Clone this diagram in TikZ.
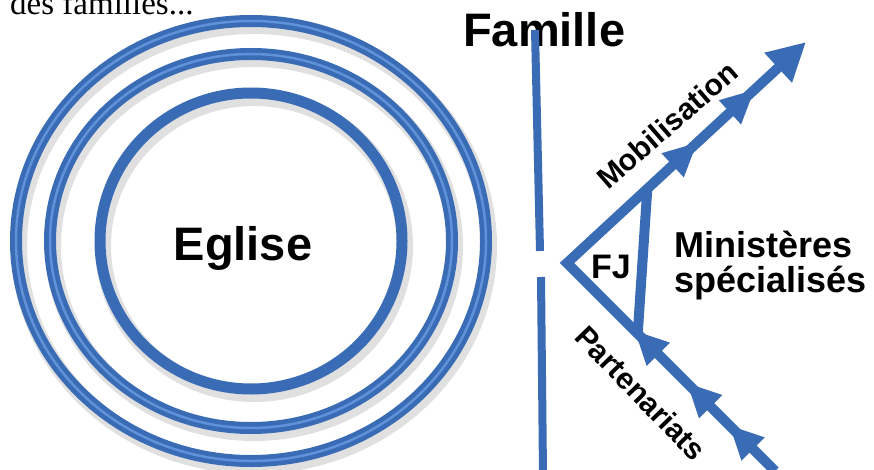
\documentclass[tikz,border=0pt]{standalone}
\usepackage{fontspec}
\setmainfont{Liberation Sans}
\newfontfamily\topserif{Liberation Serif}
\usetikzlibrary{arrows.meta,decorations.markings,calc}
\definecolor{ringblue}{RGB}{58,108,182}
\definecolor{ringlight}{RGB}{96,146,218}
\newcommand\headtri{\fill[ringblue] (0pt,0pt) -- (-33pt,16.5pt) -- (-33pt,-16.5pt) -- cycle;}
\tikzset{
  ring/.style={draw=ringblue, line width=12pt},
  ringhi/.style={draw=ringlight, line width=2.5pt},
  ringshadow/.style={draw=black, line width=16pt, opacity=0.12},
  bar/.style={draw=ringblue, line width=10pt},
  famline/.style={draw=ringblue, line width=8pt},
  lbl/.style={font=\bfseries\fontsize{30}{30}\selectfont, inner sep=0pt},
  bigtxt/.style={font=\bfseries\fontsize{47}{47}\selectfont, inner sep=0pt},
}
\begin{document}
\begin{tikzpicture}[x=1pt,y=-1pt]
\useasboundingbox (0,0) rectangle (874,470);
\clip (0,0) rectangle (874,470);
\fill[white] (0,0) rectangle (874,470);

\node[anchor=base west, inner sep=0pt, font=\topserif\fontsize{33}{33}\selectfont] (top) at (10,15) {des familles...};

% rings
\coordinate (C) at (251,241);
\draw[ringshadow] ($(C)+(3,5)$) ellipse [x radius=235pt, y radius=220pt];
\draw[ringshadow] ($(C)+(3,5)$) ellipse [x radius=201pt, y radius=187pt];
\draw[ringshadow] ($(C)+(3,5)$) ellipse [x radius=151pt, y radius=148pt];
\draw[ring] (C) ellipse [x radius=235pt, y radius=220pt];
\draw[ringhi] (C) ellipse [x radius=235pt, y radius=220pt];
\draw[ring] (C) ellipse [x radius=201pt, y radius=187pt];
\draw[ringhi] (C) ellipse [x radius=201pt, y radius=187pt];
\draw[ring, line width=11pt] (C) ellipse [x radius=151pt, y radius=148pt];

\node[bigtxt, anchor=base] (eglise) at (243,260) {Eglise};
\node[bigtxt, anchor=base west] (famille) at (463,47) {Famille};

% family line
\coordinate (f1) at (535,30);
\coordinate (f2) at (540,251);
\coordinate (f3) at (541,277);
\coordinate (f4) at (543,475);
\draw[famline] (f1) -- (f2);
\draw[famline] (f3) -- (f4);

% arms
\coordinate (V) at (567,263);
\coordinate (T) at (806,42);
\coordinate (B) at (775,471);
\draw[bar, line join=miter, -{Triangle[length=38pt,width=38pt]},
  postaction={decorate},
  decoration={markings,
    mark=at position 64pt with {\headtri},
    mark=at position 124pt with {\headtri},
    mark=at position 198pt with {\headtri},
    mark=at position 471pt with {\headtri},
    mark=at position 549pt with {\headtri}}]
  (B) -- (V) -- (T);

\coordinate (U1) at ($(V)!0.336!(T)$);
\coordinate (L1) at ($(V)!0.34!(B)$);
\draw[bar] (U1) -- (L1);

\node[lbl, rotate=41] (mob) at (667,125) {Mobilisation};
\node[lbl, rotate=-46] (part) at (641,393) {Partenariats};
\node[anchor=base west, font=\bfseries\fontsize{36}{35}\selectfont, align=left, inner sep=0pt] (min) at (674,292) {Ministères\\spécialisés};
\node[anchor=base west, font=\bfseries\fontsize{34}{34}\selectfont, inner sep=0pt] (fj) at (591,278) {FJ};
\end{tikzpicture}
\end{document}
